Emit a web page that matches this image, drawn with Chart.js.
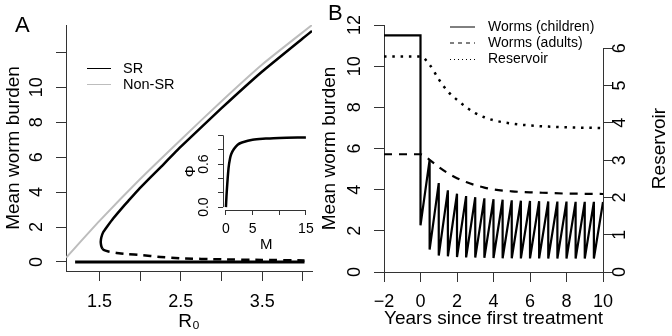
<!DOCTYPE html>
<html>
<head>
<meta charset="utf-8">
<script src="https://cdn.jsdelivr.net/npm/chart.js@4/dist/chart.umd.min.js"></script>
<style>
html, body { margin: 0; padding: 0; background: #fff; }
#wrap { position: relative; width: 672px; height: 336px; overflow: hidden; }
canvas { position: absolute; }
</style>
</head>
<body>
<div id="wrap">
  <canvas id="panelA" width="336" height="336" style="left:0;top:0"></canvas>
  <canvas id="panelB" width="354" height="336" style="left:318px;top:0"></canvas>
  <canvas id="inset" width="150" height="140" style="left:170px;top:120px"></canvas>
</div>
<script>
// panel A : equilibrium mean worm burden against R0
var nonSrR0 = [1.09, 1.5, 2.0, 2.5, 3.0, 3.5, 4.112];
var nonSrW  = [0.25, 2.35, 4.75, 7.0, 9.2, 11.3, 13.56];
var srZeroR0 = [1.2, 4.02];
var srZeroW  = [0, 0];
var srUnstableR0 = [1.535, 1.55, 1.6, 1.71, 1.85, 2.0, 2.25, 2.5, 3.0, 3.5, 4.02];
var srUnstableW  = [0.76, 0.69, 0.61, 0.52, 0.45, 0.4, 0.29, 0.21, 0.15, 0.12, 0.09];
var srUpperR0 = [1.535, 1.524, 1.518, 1.515, 1.522, 1.545, 1.59, 1.67, 1.76, 1.855, 1.99, 2.25, 2.5, 3.0, 3.5, 4.0, 4.112];
var srUpperW  = [0.76, 0.88, 1.0, 1.15, 1.4, 1.7, 2.0, 2.5, 3.0, 3.5, 4.2, 5.42, 6.6, 8.8, 10.9, 12.8, 13.22];
var r0Ticks = [1.5, 2, 2.5, 3, 3.5, 4];
var r0Labels = ['1.5', '', '2.5', '', '3.5', ''];
var burdenTicksA = [0, 2, 4, 6, 8, 10, 12];
var burdenLabelsA = ['0', '2', '4', '6', '8', '10', ''];

// inset : Phi against M
var insetM   = [0, 0.1, 0.25, 0.5, 0.75, 1, 1.5, 2.2, 3, 5, 7.5, 10, 15];
var insetPhi = [0, 0.15, 0.32, 0.55, 0.67, 0.74, 0.81, 0.87, 0.9, 0.94, 0.955, 0.965, 0.972];
var mTicks = [0, 5, 10, 15];
var mLabels = ['0', '5', '', '15'];
var phiTicks = [0, 0.2, 0.4, 0.6, 0.8, 1];
var phiLabels = ['0.0', '', '', '0.6', '', ''];

// panel B : treatment every half year
var preYears = [-2, 0];
var preChild = 11.5;
var treatYears = [0, 0.5, 1, 1.5, 2, 2.5, 3, 3.5, 4, 4.5, 5, 5.5, 6, 6.5, 7, 7.5, 8, 8.5, 9, 9.5];
var childAfter  = [2.27, 1.09, 0.8, 0.76, 0.73, 0.71, 0.7, 0.69, 0.68, 0.67, 0.67, 0.66, 0.66, 0.66, 0.65, 0.65, 0.65, 0.65, 0.65, 0.65];
var childBefore = [5.45, 4.32, 3.97, 3.8, 3.69, 3.63, 3.58, 3.54, 3.51, 3.48, 3.46, 3.45, 3.44, 3.43, 3.42, 3.42, 3.41, 3.41, 3.41, 3.4];
var endYear = 10;
var adultYears = [-2, 0, 0.5, 1, 1.5, 2, 2.5, 3, 3.5, 4, 5, 6, 7, 8, 9, 10];
var adultW     = [5.72, 5.72, 5.45, 5.1, 4.8, 4.56, 4.37, 4.22, 4.1, 4.01, 3.92, 3.87, 3.84, 3.81, 3.8, 3.79];
var resYears = [-2, 0, 0.5, 1, 1.5, 2, 2.5, 3, 3.5, 4, 5, 6, 7, 8, 9, 10];
var resV     = [5.78, 5.78, 5.56, 5.17, 4.84, 4.62, 4.42, 4.26, 4.15, 4.07, 3.98, 3.93, 3.9, 3.88, 3.87, 3.86];
var yearTicks = [-2, 0, 2, 4, 6, 8, 10];
var burdenTicksB = [0, 2, 4, 6, 8, 10, 12];
var resTicks = [0, 1, 2, 3, 4, 5, 6];

Chart.defaults.font.family = '"Liberation Sans", Arial, Helvetica, sans-serif';
Chart.defaults.color = '#000';
Chart.defaults.animation = false;
var AXIS = '#333';
var GREY = '#bdbdbd';

function pts(xs, ys) {
  return xs.map(function (x, i) { return {x: x, y: ys[i]}; });
}
function minus(v) { return String(v).replace('-', '\u2212'); }

// one R-like axis
function axis(o) {
  return {
    type: 'linear', position: o.position, min: o.min, max: o.max,
    afterBuildTicks: function (s) { s.ticks = o.ticks.map(function (v) { return {value: v}; }); },
    afterFit: function (s) {
      if (o.width != null) s.width = o.width;
      if (o.height != null) s.height = o.height;
    },
    ticks: {
      autoSkip: false, padding: o.pad, font: {size: o.fs || 18},
      minRotation: o.vertical ? 90 : 0, maxRotation: o.vertical ? 90 : 0,
      crossAlign: o.vertical ? 'center' : 'near',
      callback: function (v, i) { return o.labels ? o.labels[i] : minus(v); }
    },
    grid: {drawOnChartArea: false, tickLength: o.tl || 10, color: AXIS},
    border: {display: o.border !== false, color: AXIS},
    title: {display: !!o.title, text: o.title, font: {size: o.tfs || 19}, padding: {top: o.tpad || 0, bottom: o.tpad || 0}}
  };
}

function text(ctx, s, x, y, size, rot, align) {
  ctx.save();
  ctx.font = size + 'px "Liberation Sans", Arial, Helvetica, sans-serif';
  ctx.fillStyle = '#000';
  ctx.textAlign = align || 'left';
  ctx.textBaseline = 'middle';
  ctx.translate(x, y);
  if (rot) ctx.rotate(rot);
  ctx.fillText(s, 0, 0);
  ctx.restore();
}
function seg(ctx, x0, y0, x1, y1, color, dash) {
  ctx.save();
  ctx.strokeStyle = color;
  ctx.lineWidth = 1;
  ctx.setLineDash(dash || []);
  ctx.beginPath();
  ctx.moveTo(x0, y0);
  ctx.lineTo(x1, y1);
  ctx.stroke();
  ctx.restore();
}

// ---------- panel A
var decorA = {
  id: 'decorA',
  afterDraw: function (chart) {
    var c = chart.ctx;
    c.save();
    c.font = '22px "Liberation Sans", Arial, sans-serif';
    c.fillStyle = '#000';
    c.fillText('A', 15, 32);
    c.restore();
    seg(c, 87, 68.5, 111, 68.5, '#000');
    seg(c, 87, 84.5, 111, 84.5, GREY);
    text(c, 'SR', 123, 68.5, 14.5);
    text(c, 'Non-SR', 123, 84.5, 14.5);
  }
};

new Chart(document.getElementById('panelA'), {
  type: 'scatter',
  data: {
    datasets: [
      {label: 'SR', data: pts(srUpperR0, srUpperW), showLine: true, borderColor: '#000', borderWidth: 2.5, pointRadius: 0, tension: 0.1},
      {label: 'SR unstable', data: pts(srUnstableR0, srUnstableW), showLine: true, borderColor: '#000', borderWidth: 2.5, borderDash: [8, 6], pointRadius: 0, tension: 0.15},
      {label: 'SR zero', data: pts(srZeroR0, srZeroW), showLine: true, borderColor: '#000', borderWidth: 2.8, pointRadius: 0},
      {label: 'Non-SR', data: pts(nonSrR0, nonSrW), showLine: true, borderColor: GREY, borderWidth: 2, pointRadius: 0, tension: 0.2}
    ]
  },
  options: {
    responsive: false,
    layout: {padding: {top: 25, right: 24, left: 0, bottom: 0}},
    plugins: {legend: {display: false}, tooltip: {enabled: false}},
    scales: {
      x: axis({position: 'bottom', min: 1.088, max: 4.112, ticks: r0Ticks, labels: r0Labels, height: 65, pad: 10, title: 'R\u2080', tpad: 3}),
      y: axis({position: 'left', min: -0.515, max: 13.56, ticks: burdenTicksA, labels: burdenLabelsA, width: 66, pad: 8.5, vertical: true, title: 'Mean worm burden', tpad: 2})
    }
  },
  plugins: [decorA]
});

// ---------- inset
var insetAxes = {
  id: 'insetAxes',
  afterDraw: function (chart) {
    var a = chart.chartArea, x = chart.scales.x, y = chart.scales.y;
    var bx = Math.round(a.bottom) + 0.5, lx = Math.round(a.left) + 0.5;
    seg(chart.ctx, x.getPixelForValue(mTicks[0]), bx, x.getPixelForValue(mTicks[mTicks.length - 1]), bx, AXIS);
    seg(chart.ctx, lx, y.getPixelForValue(phiTicks[0]), lx, y.getPixelForValue(phiTicks[phiTicks.length - 1]), AXIS);
  }
};

new Chart(document.getElementById('inset'), {
  type: 'scatter',
  data: {
    datasets: [
      {label: 'Phi', data: pts(insetM, insetPhi), showLine: true, borderColor: '#000', borderWidth: 2.5, pointRadius: 0, tension: 0.3}
    ]
  },
  options: {
    responsive: false,
    layout: {padding: {top: 12.5, right: 8, left: 0, bottom: 0}},
    plugins: {legend: {display: false}, tooltip: {enabled: false}},
    scales: {
      x: axis({position: 'bottom', min: -0.55, max: 15.65, ticks: mTicks, labels: mLabels, height: 50, pad: 6, tl: 5, fs: 14, border: false, title: 'M', tfs: 15, tpad: 6}),
      y: axis({position: 'left', min: -0.04, max: 1.04, ticks: phiTicks, labels: phiLabels, width: 53, pad: 4, tl: 5, fs: 14, vertical: true, border: false, title: '\u03a6', tfs: 15, tpad: 12})
    }
  },
  plugins: [insetAxes]
});

// ---------- panel B
var childPts = pts(preYears, [preChild, preChild]);
treatYears.forEach(function (t, i) {
  childPts.push({x: t, y: childAfter[i]});
  childPts.push({x: i + 1 < treatYears.length ? treatYears[i + 1] : endYear, y: childBefore[i]});
});

var decorB = {
  id: 'decorB',
  afterDraw: function (chart) {
    var c = chart.ctx, a = chart.chartArea, r = chart.scales.y2;
    var ox = 318;
    c.save();
    c.font = '22px "Liberation Sans", Arial, sans-serif';
    c.fillStyle = '#000';
    c.fillText('B', 328 - ox, 20);
    c.restore();
    // right axis line spans its ticks only
    var rx = Math.round(a.right) + 0.5;
    seg(c, rx, r.getPixelForValue(resTicks[0]), rx, r.getPixelForValue(resTicks[resTicks.length - 1]), AXIS);
    text(c, 'Reservoir', 659.5 - ox, (a.top + a.bottom) / 2, 19, -Math.PI / 2, 'center');
    // legend
    seg(c, 450 - ox, 27, 475 - ox, 27, '#000');
    seg(c, 450 - ox, 43, 475 - ox, 43, '#000', [4, 4]);
    seg(c, 450 - ox, 59.5, 475 - ox, 59.5, '#000', [1, 3]);
    text(c, 'Worms (children)', 488 - ox, 27, 14);
    text(c, 'Worms (adults)', 488 - ox, 43, 14);
    text(c, 'Reservoir', 488 - ox, 59.5, 14);
  }
};

new Chart(document.getElementById('panelB'), {
  type: 'scatter',
  data: {
    datasets: [
      {label: 'Worms (children)', data: childPts, showLine: true, borderColor: '#000', borderWidth: 2.2, pointRadius: 0, yAxisID: 'y'},
      {label: 'Worms (adults)', data: pts(adultYears, adultW), showLine: true, borderColor: '#000', borderWidth: 2.2, borderDash: [8, 7], pointRadius: 0, cubicInterpolationMode: 'monotone', yAxisID: 'y'},
      {label: 'Reservoir', data: pts(resYears, resV), showLine: true, borderColor: '#000', borderWidth: 2.5, borderDash: [2.5, 5.8], pointRadius: 0, cubicInterpolationMode: 'monotone', yAxisID: 'y2'}
    ]
  },
  options: {
    responsive: false,
    layout: {padding: {top: 25, right: 0, left: 0, bottom: 0}},
    plugins: {legend: {display: false}, tooltip: {enabled: false}},
    scales: {
      x: axis({position: 'bottom', min: -2, max: 10, ticks: yearTicks, height: 64, pad: 9.7, title: 'Years since first treatment', tpad: 6}),
      y: axis({position: 'left', min: 0, max: 12, ticks: burdenTicksB, width: 66, pad: 8.5, vertical: true, title: 'Mean worm burden', tpad: 0}),
      y2: axis({position: 'right', min: 0, max: 6.625, ticks: resTicks, width: 69, pad: 2, vertical: true, border: false})
    }
  },
  plugins: [decorB]
});
</script>
</body>
</html>
